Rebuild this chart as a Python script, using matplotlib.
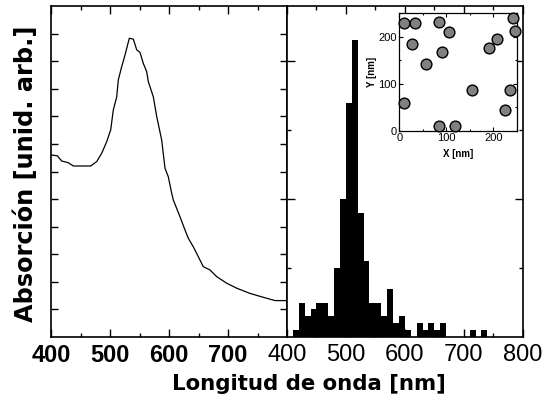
import matplotlib
matplotlib.use("Agg")
import matplotlib.pyplot as plt
import numpy as np

plt.rcParams['font.family'] = ['Liberation Sans', 'DejaVu Sans']

# Absorption spectrum (left panel)
wl = [400, 410.7, 418.1, 429.3, 437.8, 467.3, 477.5, 485.9, 494.4, 501.2, 505.6,
      511.4, 514.1, 519.8, 525.4, 532.7, 539.5, 545.3, 550.8, 556.4, 562.2, 564.9,
      573.4, 579.2, 587.6, 593.2, 598.8, 604.6, 607.3, 618.6, 627.1, 632.7, 641.2,
      649.7, 658.1, 669.5, 680.8, 697.8, 714.7, 737.3, 759.8, 779.7, 798.3]
absorb = [6.60, 6.57, 6.38, 6.32, 6.20, 6.20, 6.36, 6.66, 7.08, 7.51, 8.23,
          8.71, 9.32, 9.80, 10.22, 10.83, 10.80, 10.41, 10.32, 9.92, 9.62, 9.26,
          8.71, 7.99, 7.14, 6.12, 5.81, 5.21, 4.97, 4.36, 3.88, 3.58, 3.27,
          2.91, 2.55, 2.43, 2.19, 1.95, 1.77, 1.58, 1.44, 1.32, 1.32]

# Histogram of resonance wavelengths (right panel), 10 nm bins
bin_left = [410, 420, 430, 440, 450, 460, 470, 480, 490, 500, 510, 520, 530, 540,
            550, 560, 570, 580, 590, 600, 620, 630, 640, 650, 660, 710, 730]
counts = [1, 5, 3, 4, 5, 5, 3, 10, 20, 34, 43, 18, 11, 5,
          5, 3, 7, 2, 3, 1, 2, 1, 2, 1, 2, 1, 1]
bin_width = 10

# Inset: particle positions
px = [10, 33, 85, 106, 28, 90, 56, 9, 84, 118, 155, 191, 209, 243, 246, 235, 226]
py = [230, 229, 231, 211, 184, 167, 142, 58, 11, 11, 86, 176, 196, 239, 213, 86, 44]

fig = plt.figure(figsize=(5.44, 4.0), dpi=100)
W, H = 544, 400
def pos(x0, y0, x1, y1):
    return [x0 / W, 1 - y1 / H, (x1 - x0) / W, (y1 - y0) / H]

ax1 = fig.add_axes(pos(51, 6, 287, 337))
ax2 = fig.add_axes(pos(287, 6, 522.7, 337))
axi = fig.add_axes(pos(399.3, 13.3, 516.7, 130.7))

ax1.plot(wl, absorb, color='black', lw=0.9)
ax1.set_xlim(400, 800)
ax1.set_ylim(0, 12)
ax1.set_xticks([400, 500, 600, 700, 800])
ax1.set_xticklabels(['400', '500', '600', '700', ''])
ax1.set_xticks(np.arange(450, 800, 100), minor=True)
ax1.set_yticks(np.arange(1, 12))
ax1.set_yticklabels([])
ax1.tick_params(axis='both', which='major', direction='in', top=True, right=True,
                length=6, width=1, labelsize=17, pad=5)
ax1.tick_params(axis='both', which='minor', direction='in', top=True, right=True,
                length=3, width=1)
ax1.tick_params(axis='y', which='major', length=5)
for lab in ax1.get_xticklabels():
    lab.set_fontweight('bold')

ax2.bar(bin_left, counts, width=bin_width, align='edge', color='black', edgecolor='black', lw=0)
ax2.set_xlim(400, 800)
ax2.set_ylim(0, 48)
ax2.set_xticks([400, 500, 600, 700, 800])
ax2.set_xticks(np.arange(450, 800, 100), minor=True)
ax2.set_yticks([20, 40])
ax2.set_yticks([10, 30], minor=True)
ax2.set_yticklabels([])
ax2.tick_params(axis='both', which='major', direction='in', top=True, right=True,
                length=6, width=1, labelsize=17, pad=5)
ax2.tick_params(axis='both', which='minor', direction='in', top=True, right=True,
                length=3, width=1)

for ax in (ax1, ax2):
    for s in ax.spines.values():
        s.set_linewidth(1.2)

fig.text(309 / W, 1 - 384 / H, 'Longitud de onda [nm]', ha='center', va='center',
         fontsize=15.3, fontweight='bold', family=['DejaVu Sans'])
fig.text(26 / W, 1 - 173.5 / H, 'Absorción [unid. arb.]', ha='center', va='center',
         rotation=90, fontsize=17.3, fontweight='bold', family=['DejaVu Sans'])

axi.scatter(px, py, s=60, facecolor='#808080', edgecolor='black', linewidths=1.0,
            clip_on=False, zorder=3)
axi.set_xlim(0, 250)
axi.set_ylim(0, 250)
axi.set_xticks([0, 100, 200])
axi.set_yticks([0, 100, 200])
axi.set_xticks([50, 150, 250], minor=True)
axi.set_yticks([50, 150, 250], minor=True)
axi.tick_params(axis='both', which='major', direction='in', top=True, right=True,
                length=3, width=0.8, labelsize=8, pad=2)
axi.tick_params(axis='both', which='minor', direction='in', top=True, right=True,
                length=1.5, width=0.8)
axi.set_xlabel('X [nm]', fontsize=7, fontweight='bold', labelpad=4)
axi.set_ylabel('Y [nm]', fontsize=7, fontweight='bold', labelpad=1)
for s in axi.spines.values():
    s.set_linewidth(0.9)

fig.savefig('out.png', dpi=100)
